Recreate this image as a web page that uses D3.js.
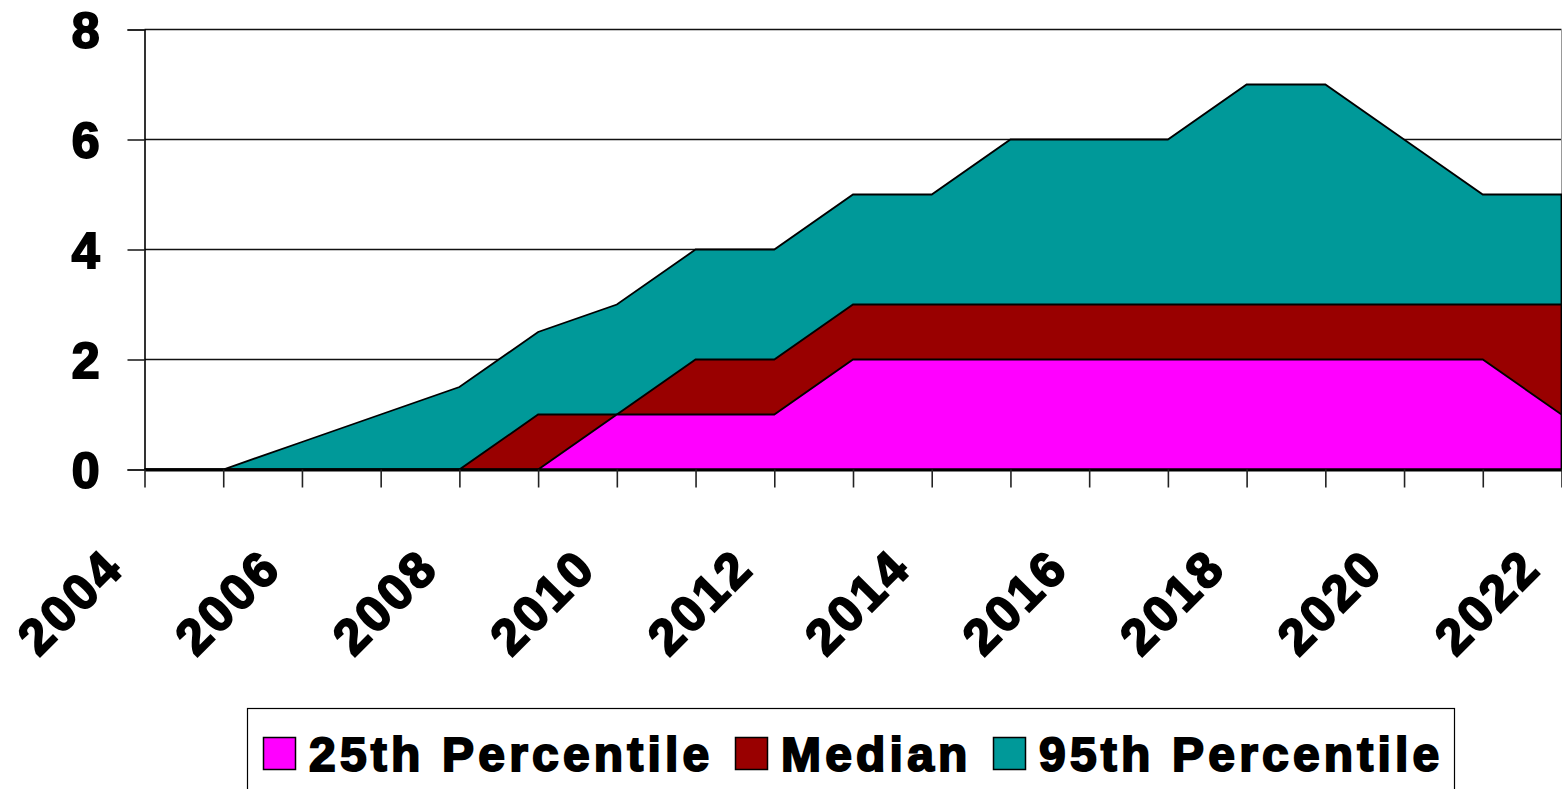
<!DOCTYPE html>
<html>
<head>
<meta charset="utf-8">
<script src="https://cdn.jsdelivr.net/npm/d3@7"></script>
<style>
  html, body { margin: 0; padding: 0; background: #fff; overflow: hidden; }
  svg { display: block; font-family: "Liberation Sans", Arial, sans-serif; font-weight: bold; }
</style>
</head>
<body>
<svg id="chart" width="1562" height="789"></svg>
<script>
// Years on the category axis
const years = ["2004","2005","2006","2007","2008","2009","2010","2011","2012","2013",
               "2014","2015","2016","2017","2018","2019","2020","2021","2022"];
// Series values per year
const p25 = [0, 0, 0, 0, 0, 0, 1, 1, 1, 2, 2, 2, 2, 2, 2, 2, 2, 2, 1];
const median = [0, 0, 0, 0, 0, 1, 1, 2, 2, 3, 3, 3, 3, 3, 3, 3, 3, 3, 3];
const p95 = [0, 0, 0.5, 1, 1.5, 2.5, 3, 4, 4, 5, 5, 6, 6, 6, 7, 7, 6, 5, 5];
// Y-axis tick values
const yTicks = [0, 2, 4, 6, 8];
// Series names, back to front
const seriesNames = ["95th Percentile", "Median", "25th Percentile"];
const legendNames = ["25th Percentile", "Median", "95th Percentile"];

const colors = {
  "25th Percentile": "#FF00FF",
  "Median": "#990000",
  "95th Percentile": "#009999"
};
const seriesData = {
  "25th Percentile": p25,
  "Median": median,
  "95th Percentile": p95
};

const svg = d3.select("#chart");
const plotLeft = 144.5, plotRight = 1561.5, plotTop = 29.5, plotBottom = 469.5;

const x = d3.scalePoint().domain(years).range([plotLeft, plotRight]);
const y = d3.scaleLinear().domain([0, 8]).range([plotBottom, plotTop]);

// Horizontal gridlines
svg.append("g")
  .selectAll("line")
  .data(yTicks.filter(d => d > 0))
  .join("line")
  .attr("x1", plotLeft).attr("x2", plotRight)
  .attr("y1", d => y(d)).attr("y2", d => y(d))
  .attr("stroke", "#111").attr("stroke-width", 1.7);

// Right edge of the plot frame
svg.append("line")
  .attr("x1", plotRight).attr("x2", plotRight).attr("y1", plotTop).attr("y2", plotBottom)
  .attr("stroke", "#999").attr("stroke-width", 1);

// Overlapping area series, drawn back to front
const area = d3.area()
  .x((d, i) => x(years[i]))
  .y0(y(0))
  .y1(d => y(d));

svg.append("g")
  .selectAll("path")
  .data(seriesNames)
  .join("path")
  .attr("d", name => area(seriesData[name]))
  .attr("fill", name => colors[name])
  .attr("stroke", "#000")
  .attr("stroke-width", 1.8)
  .attr("stroke-linejoin", "miter");

// Y axis
const yAxis = d3.axisLeft(y).tickValues(yTicks).tickSize(17).tickPadding(28).tickFormat(d3.format("d"));
const gy = svg.append("g").attr("transform", `translate(${plotLeft},0)`).call(yAxis);
gy.select(".domain").attr("stroke", "#000").attr("stroke-width", 1.6);
gy.selectAll(".tick line").attr("stroke", "#222").attr("stroke-width", 1.6);
gy.selectAll(".tick text")
  .attr("font-size", 50).attr("font-weight", "bold")
  .attr("font-family", "'Liberation Sans', Arial, sans-serif")
  .attr("fill", "#000").attr("stroke", "#000").attr("stroke-width", 2)
  .attr("dy", "0.36em");

// X axis: a tick per year, labels every other year
const xAxis = d3.axisBottom(x).tickSize(18).tickSizeOuter(0)
  .tickFormat((d, i) => (i % 2 === 0 ? d : ""));
const gx = svg.append("g").attr("transform", `translate(0,${plotBottom})`).call(xAxis);
gx.select(".domain").attr("stroke", "#000").attr("stroke-width", 3);
gx.selectAll(".tick line").attr("stroke", "#222").attr("stroke-width", 1.6);
gx.selectAll(".tick text")
  .attr("font-size", 50).attr("font-weight", "bold")
  .attr("font-family", "'Liberation Sans', Arial, sans-serif")
  .attr("letter-spacing", 3)
  .attr("fill", "#000").attr("stroke", "#000").attr("stroke-width", 2)
  .attr("text-anchor", "end")
  .attr("y", 0).attr("dy", 0)
  .attr("transform", "translate(-19,101) rotate(-45)");

// Legend
const legend = svg.append("g");
legend.append("rect")
  .attr("x", 247.5).attr("y", 708.5).attr("width", 1207).attr("height", 120)
  .attr("fill", "#fff").attr("stroke", "#000").attr("stroke-width", 1.2);

const legendX = [263, 735, 993];
const items = legend.selectAll("g.item")
  .data(legendNames)
  .join("g")
  .attr("class", "item")
  .attr("transform", (d, i) => `translate(${legendX[i]},0)`);
items.append("rect")
  .attr("x", 0.5).attr("y", 737.5).attr("width", 32).attr("height", 32)
  .attr("fill", d => colors[d]).attr("stroke", "#000").attr("stroke-width", 1.5);
items.append("text")
  .attr("x", 46).attr("y", 771)
  .attr("font-size", 48).attr("font-weight", "bold")
  .attr("letter-spacing", 4.2)
  .attr("fill", "#000").attr("stroke", "#000").attr("stroke-width", 2)
  .text(d => d);
</script>
</body>
</html>
